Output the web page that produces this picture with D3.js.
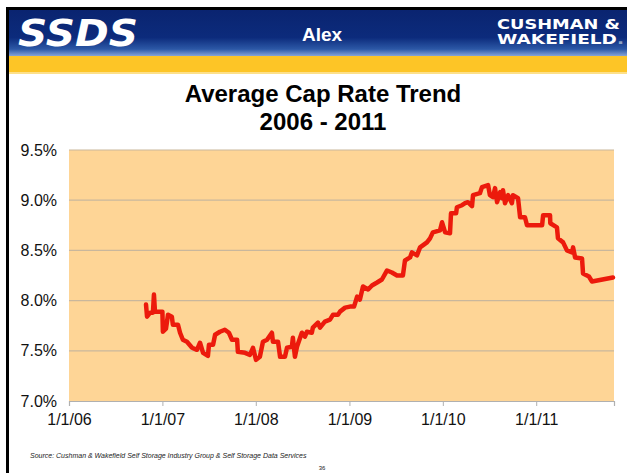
<!DOCTYPE html>
<html>
<head>
<meta charset="utf-8">
<script src="https://cdn.jsdelivr.net/npm/d3@7"></script>
<style>
  body { margin: 0; background: #fff; }
  svg { display: block; font-family: "Liberation Sans", Arial, sans-serif; }
</style>
</head>
<body>
<div id="container"></div>
<script>
/* Constants and globals */
const width = 627,
    height = 473,
    margin = {top: 150, left: 69, bottom: 72, right: 13};

/* DATA - weekly average cap rate */
const dates = ["2006-10-29","2006-11-02","2006-11-14","2006-11-25","2006-11-29","2006-12-03","2007-01-01","2007-01-03","2007-01-15","2007-01-23",
  "2007-02-07","2007-02-11","2007-03-03","2007-03-11","2007-03-22","2007-04-07","2007-04-27","2007-05-16","2007-05-28","2007-06-09",
  "2007-06-28","2007-07-02","2007-07-18","2007-07-26","2007-08-14","2007-09-02","2007-09-18","2007-09-30","2007-10-20","2007-10-23",
  "2007-11-20","2007-12-09","2007-12-21","2008-01-02","2008-01-17","2008-01-29","2008-02-14","2008-03-04","2008-03-08","2008-03-28",
  "2008-04-05","2008-04-24","2008-05-02","2008-05-21","2008-05-25","2008-06-02","2008-06-10","2008-06-29","2008-07-11","2008-07-19",
  "2008-08-07","2008-08-11","2008-08-31","2008-09-08","2008-09-27","2008-10-17","2008-10-29","2008-11-17","2008-11-25","2008-12-15",
  "2009-01-03","2009-01-19","2009-01-31","2009-02-11","2009-02-23","2009-03-15","2009-03-30","2009-04-19","2009-05-08","2009-05-28",
  "2009-06-16","2009-07-06","2009-07-29","2009-08-06","2009-08-26","2009-09-02","2009-09-22","2009-10-04","2009-10-31","2009-11-12",
  "2009-11-23","2009-12-21","2009-12-29","2010-01-10","2010-01-29","2010-02-02","2010-02-22","2010-02-25","2010-03-17","2010-03-29",
  "2010-04-09","2010-04-25","2010-04-29","2010-05-26","2010-06-03","2010-06-27","2010-07-04","2010-07-16","2010-07-24","2010-08-01",
  "2010-08-13","2010-08-20","2010-08-24","2010-09-01","2010-09-13","2010-09-28","2010-10-02","2010-10-22","2010-10-30","2010-11-18",
  "2010-11-26","2011-01-24","2011-01-28","2011-02-24","2011-02-25","2011-03-23","2011-03-27","2011-04-16","2011-05-01","2011-05-21",
  "2011-05-25","2011-06-02","2011-06-29","2011-07-03","2011-07-26","2011-08-07","2011-10-28"];

const capRates = [7.96,7.84,7.88,7.88,8.06,7.89,7.89,7.69,7.72,7.86,
  7.84,7.76,7.76,7.68,7.61,7.59,7.53,7.51,7.58,7.48,
  7.45,7.56,7.56,7.66,7.69,7.71,7.68,7.61,7.61,7.49,
  7.48,7.46,7.53,7.41,7.44,7.59,7.61,7.68,7.59,7.59,
  7.44,7.44,7.53,7.54,7.63,7.44,7.54,7.68,7.64,7.69,
  7.68,7.73,7.78,7.73,7.79,7.81,7.86,7.86,7.89,7.93,
  7.94,7.94,8.04,8.01,8.14,8.11,8.15,8.18,8.21,8.30,
  8.28,8.25,8.25,8.40,8.43,8.48,8.45,8.53,8.58,8.62,
  8.68,8.70,8.78,8.68,8.67,8.87,8.87,8.93,8.95,8.97,
  8.98,8.94,9.05,9.07,9.13,9.15,9.05,9.03,9.12,8.98,
  9.08,9.02,9.10,8.97,9.05,8.97,9.05,9.02,8.83,8.83,
  8.75,8.75,8.85,8.85,8.77,8.73,8.62,8.58,8.50,8.48,
  8.53,8.43,8.42,8.27,8.24,8.19,8.23];

const xTicks = ["2006-01-01","2007-01-01","2008-01-01","2009-01-01","2010-01-01","2011-01-01"];
const yTicks = [7.0, 7.5, 8.0, 8.5, 9.0, 9.5];
const xDomain = ["2006-01-01", "2011-11-01"];
const yDomain = [7.0, 9.5];

const parse = d3.timeParse("%Y-%m-%d");
const data = dates.map((d, i) => ({date: parse(d), rate: capRates[i]}));

/* SCALES */
const xScale = d3.scaleTime()
  .domain(xDomain.map(parse))
  .range([margin.left, width - margin.right]);

const yScale = d3.scaleLinear()
  .domain(yDomain)
  .range([height - margin.bottom, margin.top]);

/* SVG */
const svg = d3.select("#container")
  .append("svg")
  .attr("width", width)
  .attr("height", height)
  .style("background-color", "#fff");

// slide header: navy gradient bar + yellow strip
const defs = svg.append("defs");
const grad = defs.append("linearGradient")
  .attr("id", "hdr").attr("x1", 0).attr("y1", 0).attr("x2", 0).attr("y2", 1);
grad.append("stop").attr("offset", "0%").attr("stop-color", "#0a2470");
grad.append("stop").attr("offset", "60%").attr("stop-color", "#0c2b7c");
grad.append("stop").attr("offset", "85%").attr("stop-color", "#2c58a6");
grad.append("stop").attr("offset", "100%").attr("stop-color", "#86a4d6");

svg.append("rect").attr("x", 6).attr("y", 7).attr("width", width - 6).attr("height", 3).attr("fill", "#000");
svg.append("rect").attr("x", 6).attr("y", 7).attr("width", 3).attr("height", height - 7).attr("fill", "#000");
svg.append("rect").attr("x", 9).attr("y", 10).attr("width", width - 9).attr("height", 46).attr("fill", "url(#hdr)");
svg.append("rect").attr("x", 9).attr("y", 56).attr("width", width - 9).attr("height", 18).attr("fill", "#fdc526");
svg.append("rect").attr("x", 9).attr("y", 72).attr("width", width - 9).attr("height", 2).attr("fill", "#fde08a");

svg.append("text")
  .attr("x", 18).attr("y", 46)
  .attr("textLength", 120).attr("lengthAdjust", "spacingAndGlyphs")
  .style("font-family", "'DejaVu Sans', sans-serif")
  .style("font-weight", "bold").style("font-style", "italic")
  .style("font-size", "38px").attr("fill", "#fff")
  .text("SSDS");

svg.append("text")
  .attr("x", 322).attr("y", 41).attr("text-anchor", "middle")
  .style("font-weight", "bold").style("font-size", "19px").attr("fill", "#fff")
  .text("Alex");

svg.append("text")
  .attr("x", 497).attr("y", 29)
  .attr("textLength", 123).attr("lengthAdjust", "spacingAndGlyphs")
  .style("font-family", "'DejaVu Sans', sans-serif")
  .style("font-weight", "bold").style("font-size", "14px").attr("fill", "#fff")
  .text("CUSHMAN &");

const wk = svg.append("text")
  .attr("x", 497).attr("y", 44)
  .attr("textLength", 127).attr("lengthAdjust", "spacingAndGlyphs")
  .style("font-family", "'DejaVu Sans', sans-serif")
  .style("font-weight", "bold").style("font-size", "14px").attr("fill", "#fff");
wk.append("tspan").text("WAKEFIELD");
wk.append("tspan").attr("fill", "#8fa3c4").text(".");

// chart title
svg.append("text")
  .attr("x", 323).attr("y", 102).attr("text-anchor", "middle")
  .style("font-weight", "bold").style("font-size", "24px").attr("fill", "#000")
  .text("Average Cap Rate Trend");
svg.append("text")
  .attr("x", 323).attr("y", 130).attr("text-anchor", "middle")
  .style("font-weight", "bold").style("font-size", "24px").attr("fill", "#000")
  .text("2006 - 2011");

// plot area
svg.append("rect")
  .attr("x", xScale.range()[0]).attr("y", yScale.range()[1])
  .attr("width", xScale.range()[1] - xScale.range()[0])
  .attr("height", yScale.range()[0] - yScale.range()[1])
  .attr("fill", "#fed596");

// gridlines
svg.append("g")
  .selectAll("line")
  .data(yTicks.filter(d => d > yDomain[0]))
  .join("line")
  .attr("x1", xScale.range()[0]).attr("x2", xScale.range()[1])
  .attr("y1", d => yScale(d)).attr("y2", d => yScale(d))
  .attr("stroke", "#c9b79c").attr("stroke-width", 1.2);

// y axis labels
const yAxis = svg.append("g")
  .attr("transform", `translate(${margin.left},0)`)
  .call(d3.axisLeft(yScale).tickValues(yTicks).tickSize(0).tickPadding(12)
    .tickFormat(d => d3.format(".1f")(d) + "%"));
yAxis.select(".domain").remove();
yAxis.selectAll("text").style("font-size", "16px").attr("fill", "#111")
  .style("font-family", "'Liberation Sans', Arial, sans-serif");

// x axis
const xAxis = svg.append("g")
  .attr("transform", `translate(0,${yScale.range()[0]})`)
  .call(d3.axisBottom(xScale).tickValues(xTicks.map(parse)).tickSize(5).tickPadding(8)
    .tickFormat(d3.timeFormat("%-m/%-d/%y")));
xAxis.select(".domain").attr("stroke", "#b0b0b0").attr("stroke-width", 1.2);
xAxis.selectAll(".tick line").attr("stroke", "#b0b0b0");
xAxis.selectAll("text").style("font-size", "16px").attr("fill", "#111")
  .style("font-family", "'Liberation Sans', Arial, sans-serif");

// the cap rate line
const line = d3.line()
  .x(d => xScale(d.date))
  .y(d => yScale(d.rate));

svg.append("path")
  .datum(data)
  .attr("d", line)
  .attr("fill", "none")
  .attr("stroke", "#ec1a0c")
  .attr("stroke-width", 4.5)
  .attr("stroke-linejoin", "round")
  .attr("stroke-linecap", "round");

// footer
svg.append("text")
  .attr("x", 30).attr("y", 458)
  .style("font-style", "italic").style("font-size", "7px").attr("fill", "#222")
  .text("Source: Cushman & Wakefield Self Storage Industry Group & Self Storage Data Services");

svg.append("text")
  .attr("x", 322).attr("y", 470).attr("text-anchor", "middle")
  .style("font-size", "6px").attr("fill", "#222")
  .text("36");
</script>
</body>
</html>
